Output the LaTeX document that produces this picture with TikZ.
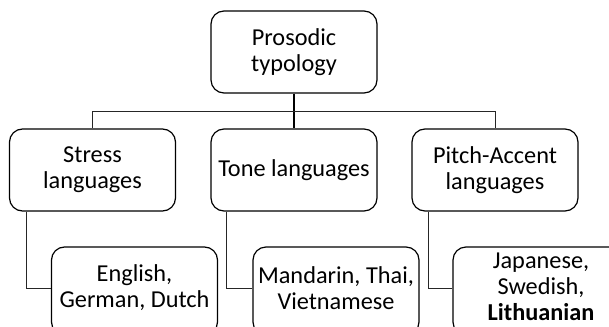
\documentclass[tikz,border=0pt]{standalone}
\usepackage{fontspec}
\setmainfont{Carlito}
\begin{document}
\begin{tikzpicture}[x=1pt,y=-1pt,
 box/.style={draw=black, line width=1.2pt, rounded corners=13pt, fill=white,
   minimum width=166pt, minimum height=82pt, inner sep=2pt, align=center,
   font=\fontsize{24.3}{26}\selectfont},
 txt/.style={align=center, inner sep=0pt, font=\fontsize{24.3}{26}\selectfont},
 conn/.style={draw=black!85, line width=0.8pt},
 trunk/.style={draw=black, line width=1.6pt}]
\useasboundingbox (0,0) rectangle (609,326);
\node[box] (top) at (294,52) {Prosodic\\typology};
\node[box] (stress) at (92.5,170) {Stress\\languages};
\node[box] (tone) at (294,170) {Tone languages};
\node[box] (pitch) at (495,170) {Pitch-Accent\\languages};
\node[box, minimum height=88pt,
  label={[txt,yshift=3pt]center:{English,\\German, Dutch}}] (eng) at (134.5,291) {};
\node[box, minimum height=88pt,
  label={[txt,yshift=3pt]center:{Mandarin, Thai,\\Vietnamese}}] (man) at (336,291) {};
\node[box, minimum height=88pt, minimum width=176pt,
  label={[txt,yshift=4.5pt]center:{Japanese,\\Swedish,\\\textbf{Lithuanian}}}] (jap) at (541,291) {};
\coordinate (j) at (294,111);
\draw[trunk] (top.south) -- (j);
\draw[trunk] (j) -- (tone.north);
\draw[conn] (j) -| (stress.north);
\draw[conn] (j) -| (pitch.north);
\draw[conn] ([xshift=17pt]stress.south west) |- ([yshift=3pt]eng.west);
\draw[conn] ([xshift=16pt]tone.south west) |- ([yshift=3pt]man.west);
\draw[conn] ([xshift=17pt]pitch.south west) |- ([yshift=3pt]jap.west);
\end{tikzpicture}
\end{document}
